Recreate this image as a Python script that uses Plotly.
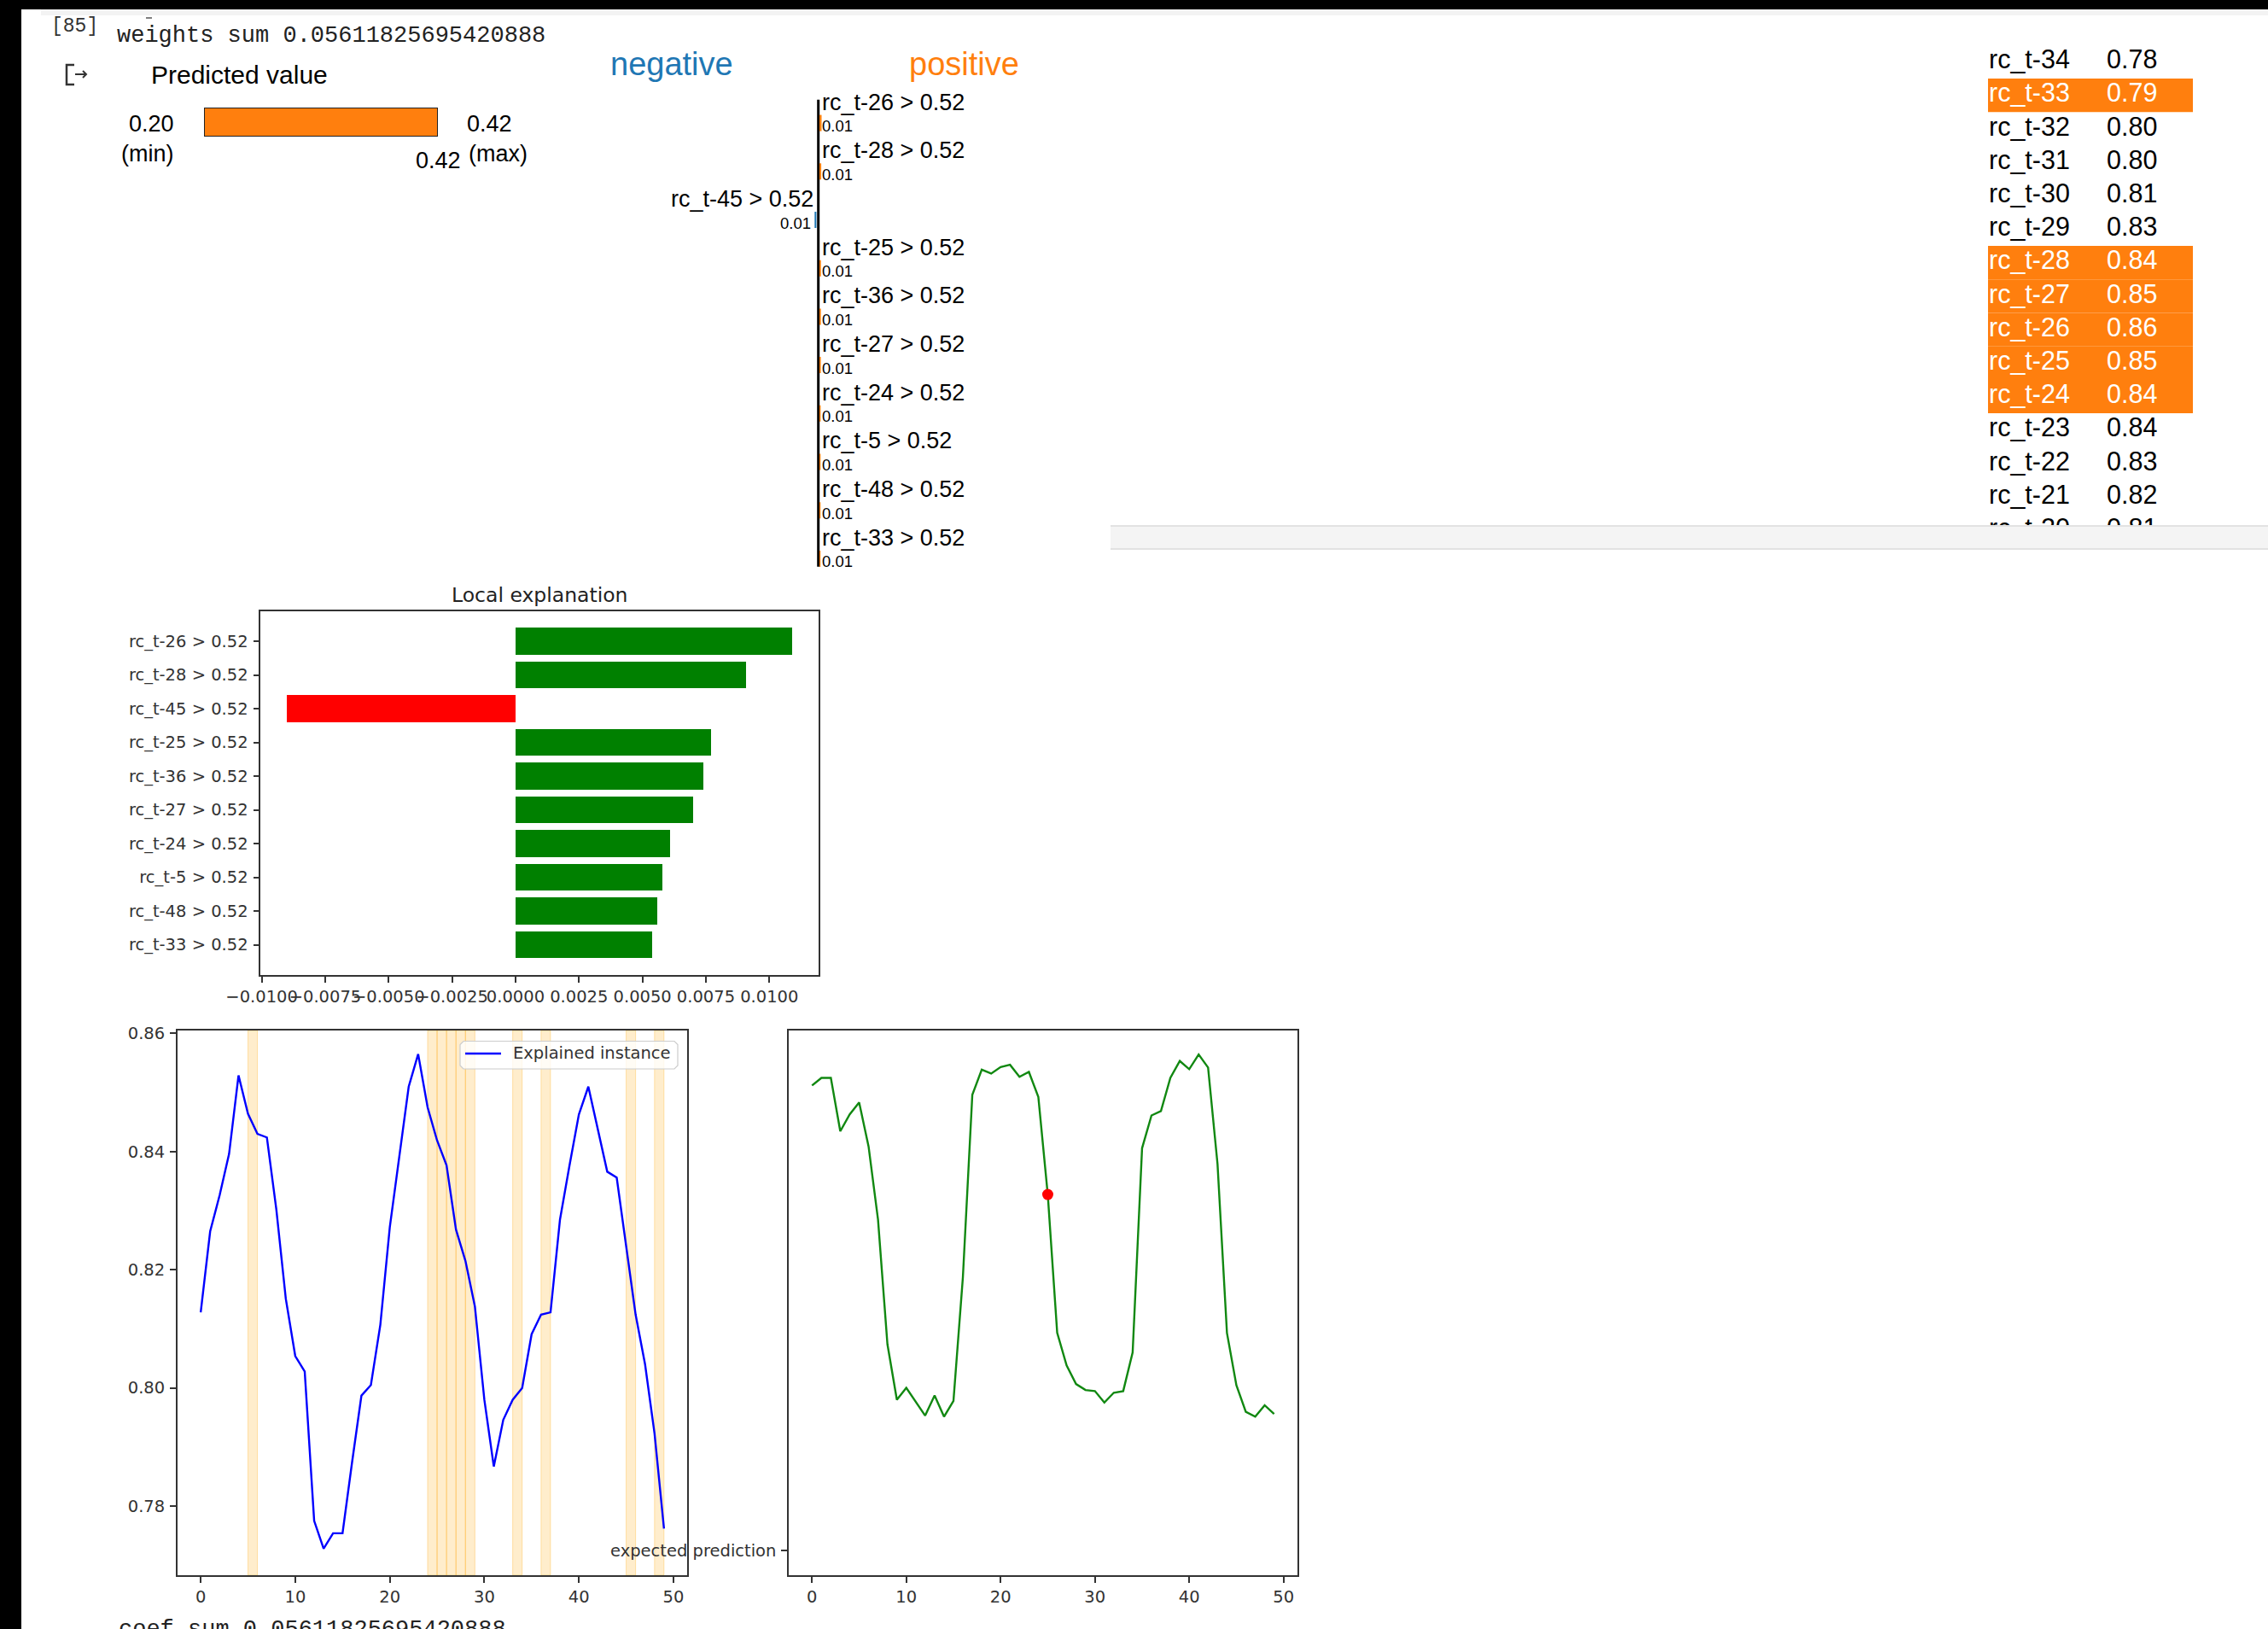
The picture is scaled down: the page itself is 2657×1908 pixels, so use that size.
import plotly.graph_objects as go

W, H = 2657, 1908

SANS = "Liberation Sans, Arial, sans-serif"
MPL = "DejaVu Sans, sans-serif"
MONO = "Liberation Mono, Courier New, monospace"
ORANGE = "#ff7f0e"
BLUE = "#1f77b4"

# ---------------- data ----------------
feature_names = [
    "rc_t-26 > 0.52", "rc_t-28 > 0.52", "rc_t-45 > 0.52", "rc_t-25 > 0.52",
    "rc_t-36 > 0.52", "rc_t-27 > 0.52", "rc_t-24 > 0.52", "rc_t-5 > 0.52",
    "rc_t-48 > 0.52", "rc_t-33 > 0.52",
]
feature_weights = [0.0109, 0.0091, -0.0090, 0.0077, 0.0074,
                   0.0070, 0.0061, 0.0058, 0.0056, 0.0054]
weights_sum = 0.05611825695420888

pred_min, pred_max, pred_value = 0.20, 0.42, 0.42

table_names = ["rc_t-34", "rc_t-33", "rc_t-32", "rc_t-31", "rc_t-30",
               "rc_t-29", "rc_t-28", "rc_t-27", "rc_t-26", "rc_t-25",
               "rc_t-24", "rc_t-23", "rc_t-22", "rc_t-21", "rc_t-20"]
table_values = [0.78, 0.79, 0.80, 0.80, 0.81, 0.83, 0.84, 0.85,
                0.86, 0.85, 0.84, 0.84, 0.83, 0.82, 0.81]

time_steps = list(range(50))
instance_values = [
    0.8128, 0.8265, 0.8326, 0.8396, 0.8529, 0.8464, 0.8430, 0.8424, 0.8302, 0.8151,
    0.8054, 0.8028, 0.7775, 0.7728, 0.7754, 0.7754, 0.7873, 0.7987, 0.8005, 0.8107,
    0.8272, 0.8393, 0.8510, 0.8565, 0.8475, 0.8419, 0.8377, 0.8268, 0.8215, 0.8138,
    0.7980, 0.7867, 0.7946, 0.7980, 0.8000, 0.8091, 0.8124, 0.8128, 0.8285, 0.8376,
    0.8463, 0.8510, 0.8436, 0.8366, 0.8356, 0.8238, 0.8124, 0.8040, 0.7923, 0.7762,
]
prediction_values = [
    0.899, 0.913, 0.913, 0.815, 0.846, 0.868, 0.787, 0.653, 0.424, 0.322,
    0.344, 0.318, 0.293, 0.330, 0.291, 0.320, 0.547, 0.882, 0.928, 0.921,
    0.933, 0.937, 0.915, 0.924, 0.878, 0.699, 0.445, 0.385, 0.351, 0.340,
    0.338, 0.317, 0.335, 0.338, 0.409, 0.784, 0.844, 0.852, 0.913, 0.944,
    0.929, 0.956, 0.932, 0.755, 0.445, 0.349, 0.300, 0.291, 0.312, 0.296,
]
explained_step = 25
expected_prediction = 0.045
instance_name = "Explained instance"

# lags used by the explanation (rc_t-<lag>)
feature_lags = [int(n.split()[0].split("-")[1]) for n in feature_names]


# ---------------- helpers (pixel -> paper) ----------------
def px(x):
    return x / W


def py(y):
    return 1 - y / H


shapes = []
annotations = []


def text(x, y, s, size, color="#000", family=SANS, xanchor="left", yanchor="middle"):
    annotations.append(dict(
        x=px(x), y=py(y), xref="paper", yref="paper", text=s, showarrow=False,
        xanchor=xanchor, yanchor=yanchor,
        font=dict(size=size, color=color, family=family),
    ))


def rect(x0, y0, x1, y1, fill, layer="above", line=None):
    shapes.append(dict(
        type="rect", xref="paper", yref="paper",
        x0=px(x0), x1=px(x1), y0=py(y1), y1=py(y0),
        fillcolor=fill, line=line or dict(width=0), layer=layer,
    ))


def path(points, color, width, layer="above", close=False, fill=None):
    d = "M " + " L ".join(f"{px(x)},{py(y)}" for x, y in points)
    if close:
        d += " Z"
    shapes.append(dict(
        type="path", xref="paper", yref="paper", path=d, layer=layer,
        line=dict(color=color, width=width),
        fillcolor=fill if fill else "rgba(0,0,0,0)",
    ))


fig = go.Figure()

# ---------------- notebook chrome ----------------
rect(0, 0, W, 11, "#000")
rect(0, 0, 25, H, "#000")
rect(48, 11, W, 18, "#f3f3f3")
text(58, 31, "[85]", 23, "#333", MONO)
path([(171, 21), (178, 21)], "#555", 1.5)
text(135, 42, f"weights sum {weights_sum}", 27, "#222", MONO)
text(137, 1909, f"coef sum {weights_sum}", 27, "#222", MONO)
# output icon
path([(87, 76), (78, 76), (78, 99), (87, 99)], "#333", 2.5)
path([(88, 87), (101, 87)], "#333", 2)
path([(97, 83), (101, 87), (97, 91)], "#333", 2)

# iframe scrollbar band
rect(1301, 615, W, 644, "#f4f4f4")
rect(1301, 615, W, 617, "#e2e2e2")
rect(1301, 642, W, 644, "#e2e2e2")

# ---------------- predicted value ----------------
text(175, 87, "Predicted value", 30)
BAR_X0, BAR_X1 = 239, 513
fig.add_trace(go.Bar(
    x=[pred_value - pred_min], base=[pred_min], y=[0], orientation="h", width=1,
    marker=dict(color=ORANGE, line=dict(color="#222", width=2)),
    xaxis="x5", yaxis="y5", cliponaxis=False, showlegend=False, hoverinfo="skip",
))
bar_end = BAR_X0 + (pred_value - pred_min) / (pred_max - pred_min) * (BAR_X1 - BAR_X0)
text(206, 145, f"{pred_min:.2f}", 27, xanchor="right")
text(206, 180, "(min)", 27, xanchor="right")
text(545, 145, f"{pred_max:.2f}", 27)
text(547, 180, "(max)", 27)
text(bar_end, 188, f"{pred_value:.2f}", 27, xanchor="center")

# ---------------- negative / positive list ----------------
text(787, 75, "negative", 38, BLUE, xanchor="center")
text(1129, 75, "positive", 38, ORANGE, xanchor="center")
LINE_X = 958.7
path([(LINE_X, 116.7), (LINE_X, 663.7)], "#000", 3)
for i, (name, w) in enumerate(zip(feature_names, feature_weights)):
    yl = 119.6 + 56.7 * i
    yv = yl + 28
    if w > 0:
        text(961, yl, name, 27)
        text(961, yv, f"{abs(w):.2f}", 18.5)
        rect(960, yl + 15, 960 + w * 230, yl + 34, ORANGE)
    else:
        text(955, yl, name, 27, xanchor="right")
        text(952, yv, f"{abs(w):.2f}", 18.5, xanchor="right")
        rect(956.4 - abs(w) * 230, yl + 15, 956.4, yl + 34, BLUE)

# ---------------- feature value table ----------------
rows = list(range(len(table_names)))
highlight = [int(n.split("-")[1]) in feature_lags for n in table_names]
for r, hl in zip(rows, highlight):
    if hl:
        shapes.append(dict(type="rect", xref="x4", yref="y4", x0=2329, x1=2569,
                           y0=r - 0.5, y1=r + 0.5, fillcolor=ORANGE,
                           line=dict(width=0), layer="below"))
row_colors = ["#ffffff" if hl else "#000000" for hl in highlight]
ROW0, ROW_H = 72.5, 39.2
fig.add_trace(go.Scatter(
    x=[2330] * len(rows), y=rows, text=table_names, mode="text",
    textposition="middle right", textfont=dict(family=SANS, size=30.5, color=row_colors),
    xaxis="x4", yaxis="y4", showlegend=False, hoverinfo="skip", cliponaxis=True,
))
fig.add_trace(go.Scatter(
    x=[2468] * len(rows), y=rows, text=[f"{v:.2f}" for v in table_values], mode="text",
    textposition="middle right", textfont=dict(family=SANS, size=30.5, color=row_colors),
    xaxis="x4", yaxis="y4", showlegend=False, hoverinfo="skip", cliponaxis=True,
))

# ---------------- local explanation bar chart ----------------
fig.add_trace(go.Bar(
    x=feature_weights, y=list(range(len(feature_names))), orientation="h", width=0.8,
    marker=dict(color=["#008000" if w > 0 else "#ff0000" for w in feature_weights],
                line=dict(width=0)),
    xaxis="x", yaxis="y", showlegend=False,
))
text(632, 697, "Local explanation", 23.5, "#222", MPL, xanchor="center")

# ---------------- explained instance ----------------
for lag in feature_lags:
    shapes.append(dict(type="rect", xref="x2", yref="y2 domain", x0=lag, x1=lag + 1,
                       y0=0, y1=1, fillcolor="rgba(255,165,0,0.2)",
                       line=dict(color="rgba(255,165,0,0.3)", width=1), layer="below"))
fig.add_trace(go.Scatter(
    x=time_steps, y=instance_values, mode="lines", name=instance_name,
    line=dict(color="#0000ff", width=2.4), xaxis="x2", yaxis="y2", showlegend=False,
))
# legend box
lx0, ly0, lx1, ly1, rr = 539, 1219.5, 794, 1252, 4
path([(lx0 + rr, ly0), (lx1 - rr, ly0), (lx1, ly0 + rr), (lx1, ly1 - rr), (lx1 - rr, ly1),
      (lx0 + rr, ly1), (lx0, ly1 - rr), (lx0, ly0 + rr)], "#cccccc", 1.2,
     close=True, fill="rgba(255,255,255,0.8)")
path([(545, 1234), (587, 1234)], "#0000ff", 2.4)
text(599, 1233, instance_name, 19.5, "#333", MPL)

# ---------------- predictions ----------------
fig.add_trace(go.Scatter(
    x=time_steps, y=prediction_values, mode="lines",
    line=dict(color="#118811", width=2.4), xaxis="x3", yaxis="y3", showlegend=False,
))
fig.add_trace(go.Scatter(
    x=[explained_step], y=[prediction_values[explained_step]], mode="markers",
    marker=dict(color="#ff0000", size=13), xaxis="x3", yaxis="y3", showlegend=False,
))

# ---------------- axes ----------------
tickfont = dict(family=MPL, size=19.5, color="#333")
frame = dict(showline=True, mirror=True, linecolor="#333", linewidth=1.8,
             ticks="outside", ticklen=7, tickwidth=1.5, tickcolor="#333",
             showgrid=False, zeroline=False, tickfont=tickfont, tickangle=0,
             automargin=False)
hidden = dict(visible=False, showgrid=False, zeroline=False, fixedrange=True,
              automargin=False)

bar_ticks = [-0.01, -0.0075, -0.005, -0.0025, 0.0, 0.0025, 0.005, 0.0075, 0.01]
bar_ticktext = [f"{t:.4f}".replace("-", "\u2212") for t in bar_ticks]

fig.update_layout(
    template="none",
    width=W, height=H, margin=dict(l=0, r=0, t=0, b=0, pad=0, autoexpand=False),
    paper_bgcolor="#ffffff", plot_bgcolor="#ffffff",
    showlegend=False, bargap=0,
    xaxis=dict(domain=[px(305.4), px(959.3)], range=[-0.01004, 0.01195], anchor="y",
               tickvals=bar_ticks, ticktext=bar_ticktext, **frame),
    yaxis=dict(domain=[py(1141.7), py(716)], range=[9.89, -0.89], anchor="x",
               tickvals=list(range(len(feature_names))), ticktext=feature_names,
               ticklabelstandoff=2, **frame),
    xaxis2=dict(domain=[px(208), px(805)], range=[-2.45, 51.45], anchor="y2",
                tickvals=[0, 10, 20, 30, 40, 50], **frame),
    yaxis2=dict(domain=[py(1845), py(1207)], range=[0.7683, 0.8605], anchor="x2",
                tickvals=[0.78, 0.80, 0.82, 0.84, 0.86], tickformat=".2f",
                ticklabelstandoff=2, **frame),
    xaxis3=dict(domain=[px(924.2), px(1519.7)], range=[-2.45, 51.45], anchor="y3",
                tickvals=[0, 10, 20, 30, 40, 50], **frame),
    yaxis3=dict(domain=[py(1845), py(1207)], range=[0, 1], anchor="x3",
                tickvals=[expected_prediction], ticktext=["expected prediction"],
                ticklabelstandoff=2, **frame),
    xaxis4=dict(domain=[px(2300), 1], range=[2300, W], anchor="y4", **hidden),
    yaxis4=dict(domain=[py(615), 1], range=[(615 - ROW0) / ROW_H, -ROW0 / ROW_H],
                anchor="x4", **hidden),
    xaxis5=dict(domain=[px(BAR_X0), px(BAR_X1)], range=[pred_min, pred_max], anchor="y5", **hidden),
    yaxis5=dict(domain=[py(160), py(126)], range=[-0.5, 0.5], anchor="x5", **hidden),
    shapes=shapes, annotations=annotations,
)

fig.write_html("out.html", include_plotlyjs=True, config={"displayModeBar": False})
